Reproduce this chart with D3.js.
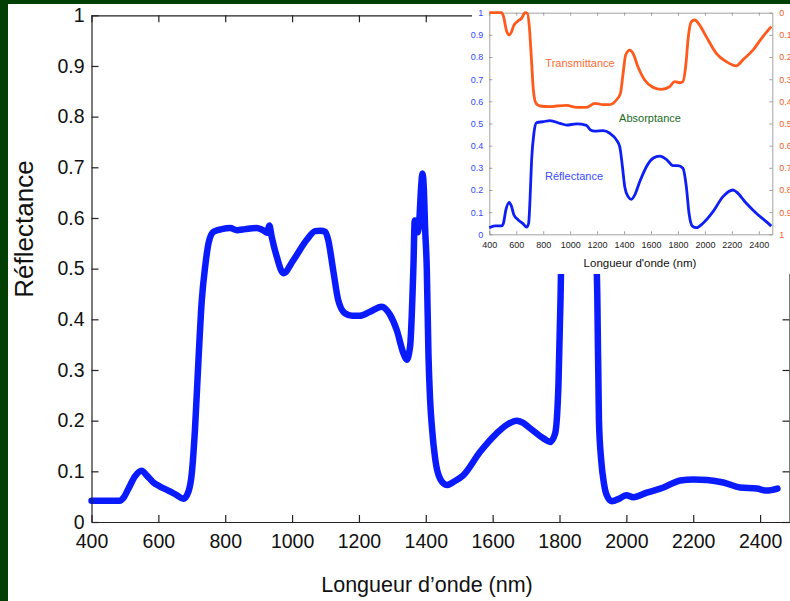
<!DOCTYPE html>
<html><head><meta charset="utf-8">
<script src="https://cdn.jsdelivr.net/npm/d3@7"></script>
<style>html,body{margin:0;padding:0;background:#fff}svg{display:block}</style>
</head><body><svg id="c" width="790" height="601"></svg>
<script>
// ---------- main chart data ----------
const wavelengths = [400,485,495,510,530,550,565,585,605,630,655,675,690,700,710,720,730,740,750,765,790,815,835,860,894,915,925,932,939,954,974,1004,1044,1069,1085,1099,1108,1123,1138,1158,1180,1203,1233,1268,1293,1313,1333,1343,1353,1363,1367,1372,1376,1380,1386,1390,1394,1398,1403,1408,1413,1418,1428,1443,1463,1485,1512,1562,1612,1645,1672,1690,1712,1752,1772,1787,1797,1803,1808,1812,1900,1908,1913,1918,1925,1933,1940,1956,1981,2000,2021,2061,2111,2161,2201,2241,2290,2340,2390,2420,2452];
const reflectance = [0.042,0.042,0.047,0.065,0.09,0.101,0.092,0.078,0.07,0.062,0.053,0.046,0.06,0.096,0.188,0.32,0.438,0.504,0.55,0.573,0.578,0.58,0.576,0.578,0.58,0.575,0.571,0.585,0.563,0.524,0.491,0.517,0.557,0.574,0.575,0.573,0.557,0.497,0.438,0.412,0.407,0.407,0.415,0.425,0.409,0.379,0.333,0.32,0.346,0.504,0.595,0.59,0.572,0.59,0.66,0.688,0.66,0.58,0.5,0.33,0.24,0.19,0.125,0.085,0.073,0.08,0.092,0.138,0.175,0.193,0.2,0.196,0.185,0.165,0.158,0.175,0.274,0.44,0.62,0.8,0.8,0.6,0.45,0.2,0.12,0.076,0.055,0.041,0.047,0.053,0.049,0.058,0.068,0.082,0.084,0.083,0.078,0.068,0.066,0.062,0.066];
const xTicks = [400,600,800,1000,1200,1400,1600,1800,2000,2200,2400];
const yTicks = [0,0.1,0.2,0.3,0.4,0.5,0.6,0.7,0.8,0.9,1];
const xTitle = "Longueur d\u2019onde (nm)";
const yTitle = "Réflectance";

// ---------- inset data ----------
const insetReflWl = [400,442,491,504,523,548,565,583,615,652,677,692,702,714,731,751,800,850,924,973,1047,1121,1151,1183,1245,1294,1343,1368,1388,1405,1430,1454,1479,1516,1566,1615,1665,1714,1763,1800,1837,1862,1882,1907,1937,1986,2060,2134,2208,2232,2307,2381,2455,2492];
const insetRefl = [0.03,0.038,0.038,0.048,0.11,0.144,0.125,0.087,0.065,0.047,0.032,0.05,0.155,0.335,0.456,0.504,0.508,0.513,0.501,0.493,0.498,0.492,0.471,0.466,0.468,0.456,0.426,0.395,0.305,0.215,0.17,0.158,0.177,0.237,0.305,0.343,0.353,0.338,0.31,0.31,0.298,0.215,0.095,0.037,0.03,0.05,0.102,0.17,0.2,0.192,0.14,0.095,0.057,0.037];
const insetTransWl = [400,491,506,526,548,565,580,615,640,665,683,697,713,727,747,776,850,899,973,1047,1121,1183,1245,1294,1343,1373,1393,1412,1442,1467,1503,1553,1615,1677,1738,1775,1812,1837,1857,1877,1899,1924,1961,2010,2084,2159,2232,2282,2356,2430,2492];
// transmittance curve, read on the right (reversed) axis
const insetTrans = [0,0,0.018,0.078,0.1,0.086,0.06,0.036,0.025,0,0.003,0.063,0.213,0.349,0.409,0.421,0.424,0.421,0.418,0.427,0.427,0.409,0.415,0.415,0.394,0.364,0.273,0.191,0.169,0.184,0.244,0.304,0.337,0.346,0.334,0.311,0.316,0.311,0.244,0.108,0.041,0.033,0.056,0.108,0.183,0.221,0.24,0.213,0.169,0.108,0.063];
const insetXTicks = [400,600,800,1000,1200,1400,1600,1800,2000,2200,2400];
const insetYTicks = [0,0.1,0.2,0.3,0.4,0.5,0.6,0.7,0.8,0.9,1];
const insetLabels = ["Transmittance","Absorptance","Réflectance"];
const insetXTitle = "Longueur d'onde (nm)";

const fmt = d => d === 0 ? "0" : d === 1 ? "1" : d.toFixed(1);
const FONT = "'Liberation Sans', Arial, Helvetica, sans-serif";

const svg = d3.select("#c");
svg.append("rect").attr("width",790).attr("height",601).attr("fill","#013f02");
svg.append("rect").attr("x",8).attr("y",4).attr("width",782).attr("height",597).attr("fill","#fff");

// ---------- main chart ----------
const x = d3.scaleLinear().domain([400,2488]).range([91.5,789.5]);
const y = d3.scaleLinear().domain([0,1]).range([522,15.3]);

const main = svg.append("g").attr("font-family",FONT);

const line = d3.line().x((d,i)=>x(wavelengths[i])).y(d=>y(d)).curve(d3.curveMonotoneX);
main.append("path").datum(reflectance)
  .attr("d",line).attr("fill","none").attr("stroke","#0a1cff")
  .attr("stroke-width",6.5).attr("stroke-linejoin","round").attr("stroke-linecap","round");

function styleAxis(g, size){
  g.selectAll("path.domain").attr("stroke","#222").attr("stroke-width",1.2);
  g.selectAll(".tick line").attr("stroke","#222").attr("stroke-width",1.2);
  g.selectAll(".tick text").attr("fill","#111").attr("font-size",size).attr("font-family",FONT);
}
const gb = main.append("g").attr("transform",`translate(0,${y(0)})`)
  .call(d3.axisBottom(x).tickValues(xTicks).tickSizeInner(-7).tickSizeOuter(0).tickPadding(12.5).tickFormat(d3.format("d")));
styleAxis(gb,"19.5px");
const gt = main.append("g").attr("transform",`translate(0,${y(1)})`)
  .call(d3.axisTop(x).tickValues(xTicks).tickSizeInner(-7).tickSizeOuter(0).tickFormat(""));
styleAxis(gt,"19.5px");
const gl = main.append("g").attr("transform",`translate(${x(400)},0)`)
  .call(d3.axisLeft(y).tickValues(yTicks).tickSizeInner(-7).tickSizeOuter(0).tickPadding(7).tickFormat(fmt));
styleAxis(gl,"19.5px");
const gr = main.append("g").attr("transform",`translate(${x(2488)},0)`)
  .call(d3.axisRight(y).tickValues(yTicks).tickSizeInner(-7).tickSizeOuter(0).tickFormat(""));
styleAxis(gr,"19.5px");

main.append("text").text(xTitle).attr("x",427).attr("y",592).attr("text-anchor","middle")
  .attr("font-size","21.5px").attr("fill","#111");
main.append("text").text(yTitle).attr("transform","translate(33,229) rotate(-90)").attr("text-anchor","middle")
  .attr("font-size","26px").attr("fill","#111");

// ---------- inset ----------
const ins = svg.append("g").attr("font-family",FONT);
ins.append("rect").attr("x",472).attr("y",4).attr("width",318).attr("height",270).attr("fill","#fff");

const ix = d3.scaleLinear().domain([400,2500]).range([489.3,772.3]);
const iyL = d3.scaleLinear().domain([0,1]).range([234.3,12.7]);
const iyR = d3.scaleLinear().domain([0,1]).range([12.7,234.3]);

function styleInset(g, color){
  g.selectAll("path.domain").attr("stroke","#8a8a8a").attr("stroke-width",0.8);
  g.selectAll(".tick line").attr("stroke","#8a8a8a").attr("stroke-width",0.8);
  g.selectAll(".tick text").attr("fill",color).attr("font-size","9px").attr("font-family",FONT);
}
const ib = ins.append("g").attr("transform",`translate(0,${iyL(0)})`)
  .call(d3.axisBottom(ix).tickValues(insetXTicks).tickSizeInner(-3).tickSizeOuter(0).tickPadding(7).tickFormat(d3.format("d")));
styleInset(ib,"#222");
const it = ins.append("g").attr("transform",`translate(0,${iyL(1)})`)
  .call(d3.axisTop(ix).tickValues(insetXTicks).tickSizeInner(-3).tickSizeOuter(0).tickFormat(""));
styleInset(it,"#222");
const il = ins.append("g").attr("transform",`translate(${ix(400)},0)`)
  .call(d3.axisLeft(iyL).tickValues(insetYTicks).tickSizeInner(-3).tickSizeOuter(0).tickPadding(6).tickFormat(fmt));
styleInset(il,"#3347ff");
const ir = ins.append("g").attr("transform",`translate(${ix(2500)},0)`)
  .call(d3.axisRight(iyR).tickValues(insetYTicks).tickSizeInner(-3).tickSizeOuter(0).tickPadding(7).tickFormat(fmt));
styleInset(ir,"#ff5a28");

const lineR = d3.line().x((d,i)=>ix(insetReflWl[i])).y(d=>iyL(d)).curve(d3.curveMonotoneX);
const lineT = d3.line().x((d,i)=>ix(insetTransWl[i])).y(d=>iyR(d)).curve(d3.curveMonotoneX);
ins.append("path").datum(insetTrans).attr("d",lineT).attr("fill","none")
  .attr("stroke","#ff5a1c").attr("stroke-width",2.8).attr("stroke-linejoin","round");
ins.append("path").datum(insetRefl).attr("d",lineR).attr("fill","none")
  .attr("stroke","#0d1ff5").attr("stroke-width",2.8).attr("stroke-linejoin","round");

const labelColors = ["#ff6a35","#1b6b1b","#3a4cff"];
const labelPos = [[580,66.5],[650,122],[574,180]];
insetLabels.forEach((t,i)=>{
  ins.append("text").text(t).attr("x",labelPos[i][0]).attr("y",labelPos[i][1])
    .attr("text-anchor","middle").attr("font-size","11px").attr("fill",labelColors[i]);
});
ins.append("text").text(insetXTitle).attr("x",640).attr("y",266.5).attr("text-anchor","middle")
  .attr("font-size","11.5px").attr("fill","#111");
</script>
</body></html>
